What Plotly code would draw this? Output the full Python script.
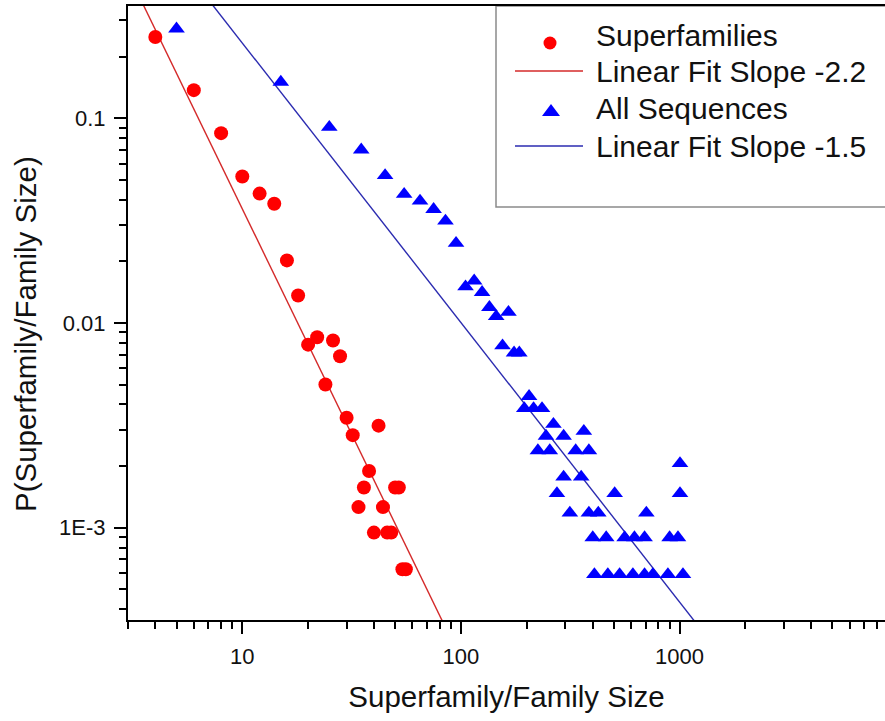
import numpy as np
import plotly.graph_objects as go

# ---------------- data ----------------
sf_size = [4, 6, 8, 10, 12, 14, 16, 18, 20, 22, 24, 26, 28, 30, 32, 34, 36, 38,
           40, 42, 44, 46, 48, 50, 52, 54, 56]
sf_prob = [0.249, 0.137, 0.0845, 0.0519, 0.0428, 0.0382, 0.0202, 0.0136, 0.00783,
           0.00851, 0.0050, 0.0082, 0.00687, 0.00344, 0.00283, 0.00126, 0.00157,
           0.00189, 0.000946, 0.00315, 0.00126, 0.000946, 0.000946, 0.00157,
           0.00157, 0.000626, 0.000626]

seq_size = [5, 15, 25, 35, 45, 55, 65, 75, 85, 95,
            105, 115, 125, 135, 145, 165, 155, 175, 185,
            205, 195, 215, 235, 265, 245, 295, 365,
            225, 255, 335, 385, 295, 355, 1005,
            275, 505, 1005, 315, 385, 425, 705,
            401, 462, 561, 622, 692, 901, 984,
            408, 470, 532, 612, 692, 755, 885, 1037]
seq_prob = [0.273, 0.150, 0.0903, 0.0700, 0.0525, 0.0425, 0.0394, 0.0359, 0.0315, 0.0245,
            0.01503, 0.01606, 0.01410, 0.01191, 0.01076, 0.01128, 0.00774, 0.00714, 0.00714,
            0.00438, 0.00382, 0.00382, 0.00382, 0.0032, 0.0028, 0.0028, 0.00296,
            0.00238, 0.00238, 0.00238, 0.00238, 0.00177, 0.00177, 0.00206,
            0.00147, 0.00147, 0.00147, 0.00118, 0.00118, 0.00118, 0.00118,
            0.000894, 0.000894, 0.000894, 0.000894, 0.000894, 0.000894, 0.000894,
            0.000591, 0.000591, 0.000591, 0.000591, 0.000591, 0.000591, 0.000591, 0.000591]

# power-law fits:  log10(P) = intercept + slope * log10(size)
sf_fit_slope, sf_fit_intercept = -2.2, 0.757
seq_fit_slope, seq_fit_intercept = -1.365, 0.732
fit_x_span = [1, 20000]

legend_labels = ["Superfamilies", "Linear Fit Slope -2.2",
                 "All Sequences", "Linear Fit Slope -1.5"]
x_title = "Superfamily/Family Size"
y_title = "P(Superfamily/Family Size)"
x_tickvals = [10, 100, 1000]
x_ticktext = ["10", "100", "1000"]
y_tickvals = [0.1, 0.01, 0.001]
y_ticktext = ["0.1", "0.01", "1E-3"]
x_range = [np.log10(3), 3.94]
y_range = [np.log10(3.54e-4), np.log10(0.353)]

# ---------------- figure ----------------
RED = "#ff0000"
BLUE = "#0000ff"
RED_LINE = "#d42a2a"
BLUE_LINE = "#2b2bb0"
TEXT = "#111111"
FONT = "Liberation Sans, Arial, sans-serif"

def fit_line(slope, intercept):
    xs = np.array(fit_x_span, dtype=float)
    return xs, 10 ** (intercept + slope * np.log10(xs))

fig = go.Figure()
fx, fy = fit_line(sf_fit_slope, sf_fit_intercept)
fig.add_trace(go.Scatter(x=fx, y=fy, mode="lines", name=legend_labels[1],
                         line=dict(color=RED_LINE, width=1.4), showlegend=False))
fx, fy = fit_line(seq_fit_slope, seq_fit_intercept)
fig.add_trace(go.Scatter(x=fx, y=fy, mode="lines", name=legend_labels[3],
                         line=dict(color=BLUE_LINE, width=1.4), showlegend=False))
fig.add_trace(go.Scatter(x=sf_size, y=sf_prob, mode="markers", name=legend_labels[0],
                         marker=dict(symbol="circle", size=14, color=RED,
                                     line=dict(width=0)), showlegend=False))
fig.add_trace(go.Scatter(x=seq_size, y=seq_prob, mode="markers", name=legend_labels[2],
                         marker=dict(symbol="triangle-up", size=14.5, color=BLUE,
                                     line=dict(width=0)), showlegend=False))

def minor_vals(lo_exp, hi_exp):
    return [m * 10 ** e for e in range(lo_exp, hi_exp + 1) for m in range(2, 10)]

axis_common = dict(
    type="log", showline=True, linecolor="black", linewidth=2,
    ticks="outside", ticklen=12, tickwidth=2, tickcolor="black",
    showgrid=False, zeroline=False, automargin=False,
    tickfont=dict(family=FONT, size=22, color=TEXT),
    ticklabelstandoff=4,
)

fig.update_xaxes(
    **axis_common, range=x_range, mirror=True,
    tickmode="array", tickvals=x_tickvals, ticktext=x_ticktext,
    minor=dict(tickmode="array", tickvals=[3, 4, 5, 6, 7, 8, 9] + minor_vals(1, 3),
               ticks="outside", ticklen=7, tickwidth=1.5, tickcolor="black", showgrid=False),
    title=dict(text=x_title, font=dict(family=FONT, size=29.5, color=TEXT), standoff=18),
)
fig.update_yaxes(
    **axis_common, range=y_range,
    tickmode="array", tickvals=y_tickvals, ticktext=y_ticktext,
    minor=dict(tickmode="array", tickvals=minor_vals(-4, -2) + [0.2, 0.3],
               ticks="outside", ticklen=7, tickwidth=1.5, tickcolor="black", showgrid=False),
)

# ---------------- legend box and y title (paper coordinates) ----------------
L, T, W, H = 128, 6, 757, 614
def px(x):
    return (x - L) / W
def py(y):
    return (T + H - y) / H

shapes = [
    dict(type="rect", xref="paper", yref="paper", x0=px(496), x1=px(960),
         y0=py(207), y1=py(6), line=dict(color="#8a8a8a", width=1.5),
         fillcolor="white", layer="below"),
    dict(type="line", xref="paper", yref="paper", x0=px(515), x1=px(583),
         y0=py(71), y1=py(71), line=dict(color=RED_LINE, width=1.4)),
    dict(type="line", xref="paper", yref="paper", x0=px(515), x1=px(583),
         y0=py(146), y1=py(146), line=dict(color=BLUE_LINE, width=1.4)),
    dict(type="circle", xref="paper", yref="paper", xsizemode="pixel", ysizemode="pixel",
         xanchor=px(550), yanchor=py(43), x0=-6.5, x1=6.5, y0=-6.5, y1=6.5,
         fillcolor=RED, line=dict(width=0)),
    dict(type="path", xref="paper", yref="paper", xsizemode="pixel", ysizemode="pixel",
         xanchor=px(551), yanchor=py(112), path="M-9,-4 L9,-4 L0,8 Z",
         fillcolor=BLUE, line=dict(width=0)),
]
annotations = []
for label, yc in zip(legend_labels, [35, 71.5, 108.7, 146.7]):
    annotations.append(dict(text=label, xref="paper", yref="paper", x=px(594), y=py(yc),
                            xanchor="left", yanchor="middle", showarrow=False,
                            font=dict(family=FONT, size=30, color=TEXT)))
annotations.append(dict(text=y_title, xref="paper", yref="paper", x=px(25), y=py(334),
                        xanchor="center", yanchor="middle", textangle=-90, showarrow=False,
                        font=dict(family=FONT, size=29.5, color=TEXT)))

fig.update_layout(
    width=885, height=721,
    margin=dict(l=128, r=0, t=6, b=101, pad=0),
    plot_bgcolor="white", paper_bgcolor="white",
    showlegend=False,
    font=dict(family=FONT, color=TEXT),
    shapes=shapes, annotations=annotations,
)

fig.write_html(
    "out.html",
    config={"displayModeBar": False},
    post_script="document.body.style.margin='0';document.body.style.padding='0';"
                "document.body.style.overflow='hidden';",
)
